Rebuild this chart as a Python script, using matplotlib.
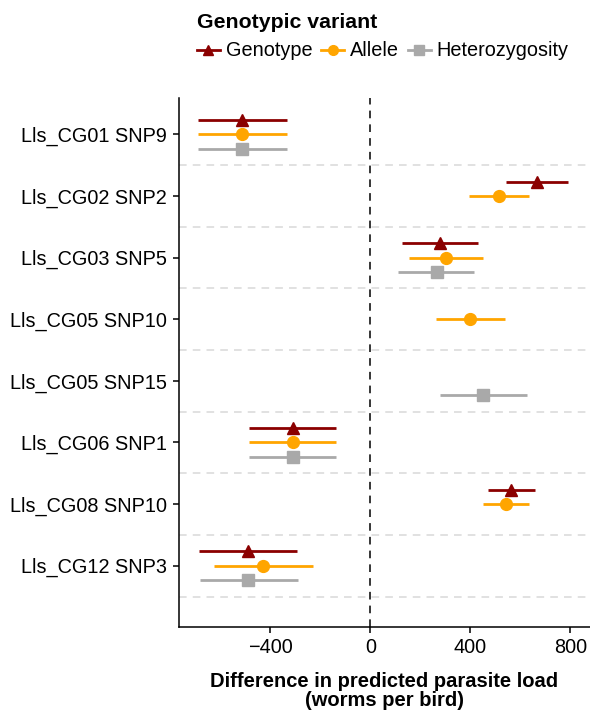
import numpy as np
import matplotlib
matplotlib.use("Agg")
import matplotlib.pyplot as plt

plt.rcParams["font.family"] = ["Liberation Sans", "DejaVu Sans"]

# ------------------------------------------------------------
# data (estimate, lower CI, upper CI); nan = not shown
# ------------------------------------------------------------
labels = ["Lls_CG01 SNP9", "Lls_CG02 SNP2", "Lls_CG03 SNP5", "Lls_CG05 SNP10",
          "Lls_CG05 SNP15", "Lls_CG06 SNP1", "Lls_CG08 SNP10", "Lls_CG12 SNP3"]

nan = np.nan
geno_est = [-514, 665, 279, nan, nan, -310, 562, -489]
geno_lo = [-690, 543, 128, nan, nan, -485, 471, -686]
geno_hi = [-334, 790, 432, nan, nan, -138, 658, -293]

allele_est = [-514, 514, 302, 400, nan, -310, 542, -428]
allele_lo = [-690, 395, 155, 263, nan, -485, 450, -624]
allele_hi = [-334, 635, 452, 539, nan, -138, 634, -230]

het_est = [-514, nan, 265, nan, 452, -310, nan, -488]
het_lo = [-690, nan, 111, nan, 279, -485, nan, -681]
het_hi = [-334, nan, 416, nan, 626, -138, nan, -290]

variants = ["Genotype", "Allele", "Heterozygosity"]
colors = ["#8B0000", "#FFA500", "#A9A9A9"]
markers = ["^", "o", "s"]
offsets = [0.235, 0.0, -0.235]

# ------------------------------------------------------------
# figure
# ------------------------------------------------------------
fig = plt.figure(figsize=(5.9, 7.15), dpi=100)
ax = fig.add_axes([0.3034, 0.1226, 0.6966, 0.7403])

ypos = -np.arange(len(labels))

series = [(geno_est, geno_lo, geno_hi),
          (allele_est, allele_lo, allele_hi),
          (het_est, het_lo, het_hi)]

# grid lines between categories
for y in ypos:
    ax.axhline(y - 0.5, color="#d9d9d9", lw=1.1, ls=(0, (5, 4)), zorder=1)

ax.axvline(0, color="black", lw=1.1, ls=(0, (5, 4)), zorder=1)

handles = []
for (est, lo, hi), name, col, mk, off in zip(series, variants, colors, markers, offsets):
    est = np.array(est, dtype=float)
    lo = np.array(lo, dtype=float)
    hi = np.array(hi, dtype=float)
    ok = ~np.isnan(est)
    y = ypos[ok] + off
    ax.hlines(y, lo[ok], hi[ok], color=col, lw=2.0, zorder=3)
    ax.plot(est[ok], y, ls="none", marker=mk, ms=9 if mk == "^" else 8.5,
            color=col, zorder=4)
    h, = ax.plot([], [], color=col, lw=2.0, marker=mk, ms=7)
    handles.append(h)

ax.set_xlim(-765, 879)
ax.set_ylim(-8, 0.59)
ax.set_xticks([-400, 0, 400, 800])
ax.set_xticklabels(["\u2212400", "0", "400", "800"])
ax.set_yticks(ypos)
ax.set_yticklabels(labels)
ax.tick_params(axis="both", labelsize=14.3, length=4.5, width=1.1, colors="black",
               pad=4)
ax.tick_params(axis="x", pad=3)

for s in ["top", "right"]:
    ax.spines[s].set_visible(False)
for s in ["left", "bottom"]:
    ax.spines[s].set_linewidth(1.1)

ax.set_xlabel("Difference in predicted parasite load\n(worms per bird)",
              fontsize=14.5, fontweight="bold", labelpad=11, linespacing=1.0)

leg = fig.legend(handles, variants, loc="upper left", bbox_to_anchor=(0.327, 0.988),
                 ncol=3, frameon=False, fontsize=14.3, title="Genotypic variant",
                 title_fontproperties={"weight": "bold", "size": 15.3},
                 alignment="left", handlelength=1.15, handletextpad=0.3,
                 columnspacing=0.45, borderaxespad=0, borderpad=0.2)

fig.savefig("out.png", dpi=100)
